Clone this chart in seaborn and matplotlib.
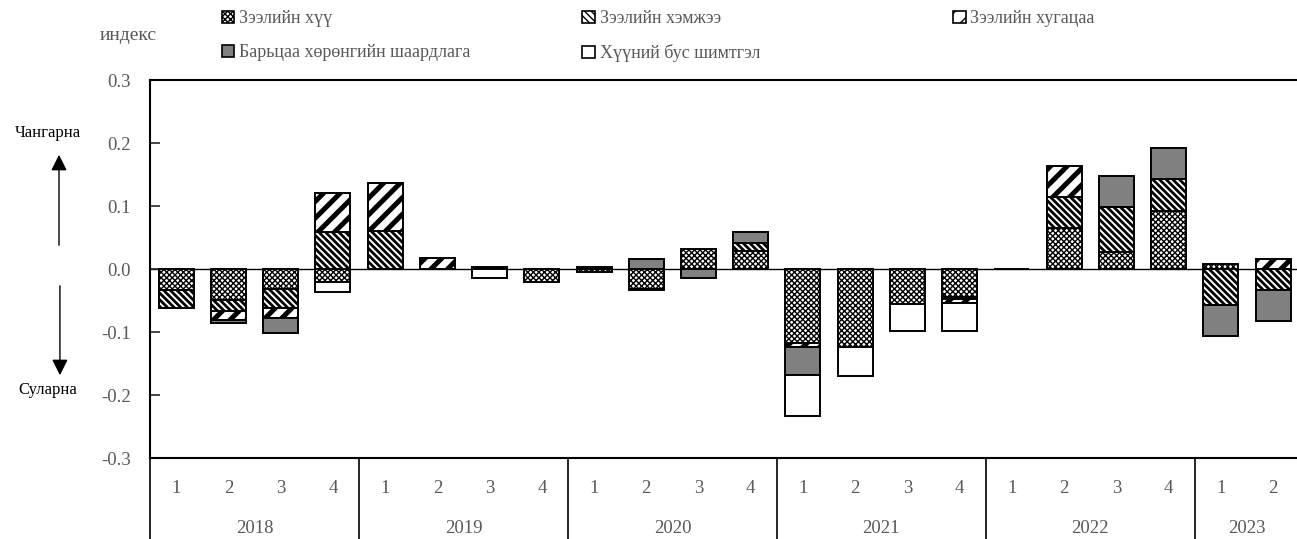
import numpy as np
import pandas as pd
import matplotlib
matplotlib.use("Agg")
import matplotlib.pyplot as plt
from matplotlib.patches import Patch, FancyArrowPatch
from matplotlib import transforms
import seaborn as sns

# data (index, quarterly)
years = ['2018', '2019', '2020', '2021', '2022', '2023']
quarters = ['1', '2', '3', '4', '1', '2', '3', '4', '1', '2', '3', '4',
            '1', '2', '3', '4', '1', '2', '3', '4', '1', '2']
periods = ['2018-1', '2018-2', '2018-3', '2018-4', '2019-1', '2019-2', '2019-3', '2019-4',
           '2020-1', '2020-2', '2020-3', '2020-4', '2021-1', '2021-2', '2021-3', '2021-4',
           '2022-1', '2022-2', '2022-3', '2022-4', '2023-1', '2023-2']

rate = [-0.033, -0.049, -0.031, -0.021, 0.0, 0.0, 0.0, -0.020, -0.004, -0.031, 0.032,
        0.029, -0.118, -0.124, -0.055, -0.044, 0.001, 0.066, 0.028, 0.093, 0.008, 0.0]
size = [-0.029, -0.017, -0.031, 0.059, 0.060, 0.0, 0.0, 0.0, 0.0, -0.002, 0.0,
        0.012, 0.0, 0.0, 0.0, -0.004, 0.0, 0.049, 0.071, 0.050, -0.057, -0.033]
term = [0.0, -0.015, -0.015, 0.062, 0.076, 0.018, 0.004, 0.0, 0.003, 0.0, 0.0,
        0.0, -0.006, 0.0, 0.0, -0.006, 0.0, 0.048, 0.0, 0.0, 0.0, 0.016]
collateral = [0.0, -0.004, -0.024, 0.0, 0.0, 0.0, 0.0, 0.0, 0.0, 0.016, -0.014,
              0.018, -0.044, 0.0, 0.0, 0.0, 0.0, 0.0, 0.049, 0.049, -0.049, -0.049]
fee = [0.0, 0.0, 0.0, -0.016, 0.0, 0.0, -0.014, 0.0, 0.0, 0.0, 0.0,
       0.0, -0.065, -0.046, -0.043, -0.044, 0.0, 0.0, 0.0, 0.0, 0.0, 0.0]

labels = ['Зээлийн хүү', 'Зээлийн хэмжээ', 'Зээлийн хугацаа',
          'Барьцаа хөрөнгийн шаардлага', 'Хүүний бус шимтгэл']

# name, values, face colour, hatch, hatch line width
series = [
    (labels[0], rate, 'white', 'xxxxxx', 1.0),
    (labels[1], size, 'white', '\\\\\\\\\\', 2.0),
    (labels[2], term, 'white', '//', 3.6),
    (labels[3], collateral, '#808080', None, 1.0),
    (labels[4], fee, 'white', None, 1.0),
]

sns.set_theme(style='white')
plt.rcParams['font.family'] = ['Liberation Serif', 'DejaVu Serif']
plt.rcParams['axes.unicode_minus'] = False
plt.rcParams['hatch.color'] = 'black'

grey = '#595959'
fig = plt.figure(figsize=(12.97, 5.39), dpi=100)
ax = fig.add_axes([0.1157, 0.150, 0.886, 0.7013])

ax.axhline(0, color='black', lw=1, zorder=0)

# stacked bars: positives stack up, negatives stack down
pos_base = np.zeros(len(periods))
neg_base = np.zeros(len(periods))
for name, vals, col, hatch, hlw in series:
    vals = np.array(vals)
    bottom = np.where(vals >= 0, pos_base, neg_base)
    df = pd.DataFrame({'period': periods, 'value': vals})
    plt.rcParams['hatch.linewidth'] = hlw
    n_before = len(ax.patches)
    sns.barplot(data=df, x='period', y='value', order=periods, color=col,
                saturation=1, width=0.67, bottom=bottom, hatch=hatch,
                edgecolor='black', linewidth=1.4, errorbar=None, ax=ax)
    for p, v in zip(ax.patches[n_before:], vals):
        if hasattr(p, 'set_hatch_linewidth'):
            p.set_hatch_linewidth(hlw)
        if v == 0:
            p.set_visible(False)
    pos_base += np.where(vals > 0, vals, 0)
    neg_base += np.where(vals < 0, vals, 0)

ax.set_xlim(-0.5, len(periods) - 0.5)
ax.set_ylim(-0.3, 0.3)
ax.set_yticks([-0.3, -0.2, -0.1, 0.0, 0.1, 0.2, 0.3])
ax.set_yticklabels([f'{t:.1f}' for t in ax.get_yticks()])
ax.tick_params(axis='y', direction='in', length=7, width=1.2, pad=14,
               labelsize=13.5, labelcolor=grey, left=True)
ax.set_xticks([])
ax.set_xlabel('')
ax.set_ylabel('')
for s in ['left', 'top', 'bottom']:
    ax.spines[s].set_color('black')
    ax.spines[s].set_linewidth(1.5)
ax.spines['right'].set_visible(False)

# two level category axis drawn as a table
trans = transforms.blended_transform_factory(ax.transData, ax.transAxes)
for i, q in enumerate(quarters):
    ax.text(i, -0.079, q, transform=trans, ha='center', va='center',
            fontsize=13.5, color=grey)
for k, y in enumerate(years):
    idx = [i for i, p in enumerate(periods) if p.startswith(y)]
    ax.text((idx[0] + idx[-1]) / 2, -0.185, y, transform=trans, ha='center',
            va='center', fontsize=13.5, color=grey)
for xb in [-0.5, 3.5, 7.5, 11.5, 15.5, 19.5]:
    ax.plot([xb, xb], [0, -0.22], transform=trans, color='black', lw=1.2,
            clip_on=False)

# legend in three separate columns
plt.rcParams['hatch.linewidth'] = 1.0
handles = [Patch(facecolor=c, edgecolor='black', hatch=h, linewidth=1.2)
           for _, _, c, h, _ in series]
leg_kw = dict(frameon=False, fontsize=13, handlelength=0.7, handleheight=0.7,
              handletextpad=0.25, labelspacing=0.95, borderpad=0, borderaxespad=0,
              loc='upper left', labelcolor=grey)
fig.legend([handles[0], handles[3]], [labels[0], labels[3]],
           bbox_to_anchor=(0.171, 0.981), **leg_kw)
fig.legend([handles[1], handles[4]], [labels[1], labels[4]],
           bbox_to_anchor=(0.449, 0.981), **leg_kw)
fig.legend([handles[2]], [labels[2]],
           bbox_to_anchor=(0.735, 0.981), **leg_kw)

fig.text(0.099, 0.935, 'индекс', ha='center', va='center', fontsize=14, color=grey)

# tightening / loosening arrows
fig.text(0.037, 0.753, 'Чангарна', ha='center', va='center', fontsize=12, color='black')
fig.text(0.037, 0.276, 'Суларна', ha='center', va='center', fontsize=12, color='black')
fig.add_artist(FancyArrowPatch((0.0455, 1 - 248 / 539), (0.0455, 1 - 152 / 539),
                               transform=fig.transFigure, arrowstyle='-|>',
                               mutation_scale=24, color='black', lw=1.0))
fig.add_artist(FancyArrowPatch((0.0462, 1 - 283 / 539), (0.0462, 1 - 378 / 539),
                               transform=fig.transFigure, arrowstyle='-|>',
                               mutation_scale=24, color='black', lw=1.0))

fig.savefig('out.png', dpi=100)
